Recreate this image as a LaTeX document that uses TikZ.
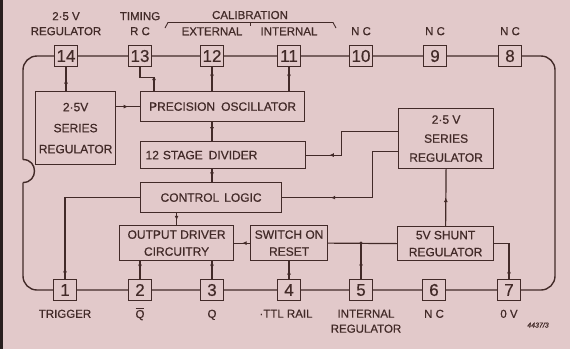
\documentclass[tikz,border=0pt]{standalone}
\usepackage{fontspec}
\setmainfont{Liberation Sans}[FakeBold=0.6]
\usetikzlibrary{arrows.meta,positioning,calc,decorations.markings}
\definecolor{PaperPink}{RGB}{226,201,202}
\definecolor{InkBrown}{RGB}{66,42,40}
\definecolor{EdgeDark}{RGB}{40,30,30}
\tikzset{
  tipat/.style={postaction={decorate},decoration={markings,mark=at position #1 with {\arrow{Latex[length=4.5pt,width=4pt]}}}},
  tipat/.default=0.5,
  pinbox/.style={draw=InkBrown, line width=1.3pt, fill=PaperPink, minimum width=23pt, minimum height=21pt, inner sep=0pt, font=\fontsize{17}{17}\selectfont},
  blockbox/.style={draw=InkBrown, line width=1.2pt, anchor=north west, align=center, inner sep=2pt, font=\fontsize{12}{19}\selectfont},
  pinlabel/.style={align=center, inner sep=1pt, font=\fontsize{11.5}{15}\selectfont}
}

\begin{document}
\begin{tikzpicture}[x=1pt, y=-1pt, color=InkBrown, line width=1.2pt]
        \useasboundingbox (0,0) rectangle (570,349);
        \fill[PaperPink] (0,0) rectangle (570,349);
        \fill[EdgeDark] (0,0) rectangle (3,349);

        \draw[line width=1.4pt, rounded corners=14pt] (23,159.5) |- (555,56) |- (23,290) -- (23,182.5);
        \draw[line width=1.4pt] (23,159.5) .. controls (38.3,159.5) and (38.3,182.5) .. (23,182.5);

        \foreach \num/\xx in {14/66,13/140,12/212,11/289,10/361,9/435,8/510}
          \node[pinbox] (p\num) at (\xx,56) {\num};
        \foreach \num/\xx in {1/65,2/140,3/212,4/289,5/361,6/434,7/509}
          \node[pinbox] (p\num) at (\xx,290) {\num};

        \node[pinlabel, above=8pt of p14] (l14) {2·5 V\\REGULATOR};
        \node[pinlabel, above=8pt of p13] (l13) {TIMING\\R C};
        \node[pinlabel, above=8pt of p12] (l12) {EXTERNAL};
        \node[pinlabel, above=8pt of p11] (l11) {INTERNAL};
        \foreach \num in {10,9,8}
          \node[pinlabel, above=8pt of p\num] (l\num) {N C};
        \node[pinlabel, anchor=base] (lcal) at (250,19) {CALIBRATION};
        \draw[line width=0.9pt] (165,28) -- (168,22.5) -- (333,22.5) -- (336,28);
        \draw[line width=0.9pt] (250,22.5) -- (250,25.5);

        \node[pinlabel, below=7pt of p1] (l1) {TRIGGER};
        \node[pinlabel, below=7pt of p2, text height=8.3pt] (l2) {$\overline{\mbox{Q}}$};
        \node[pinlabel, below=7pt of p3] (l3) {Q};
        \node[pinlabel, below=7pt of p4, xshift=-3pt] (l4) {·TTL RAIL};
        \node[pinlabel, below=7pt of p5, xshift=5pt] (l5) {INTERNAL\\REGULATOR};
        \node[pinlabel, below=7pt of p6] (l6) {N C};
        \node[pinlabel, below=7pt of p7] (l7) {0 V};
        \node[font=\fontsize{7}{7}\selectfont\itshape] (figno) at (538,325) {4437/3};

        \node[blockbox, minimum width=80pt, minimum height=73pt, font=\fontsize{12}{21}\selectfont] (lreg) at (35,91) {2·5V\\SERIES\\REGULATOR};
        \node[blockbox, minimum width=164pt, minimum height=30pt] (osc) at (140,91) {PRECISION\hspace{6pt}OSCILLATOR};
        \node[blockbox, minimum width=165pt, minimum height=27pt, text width=155pt, align=left] (div) at (140,141) {12 STAGE\hspace{6pt}DIVIDER};
        \node[blockbox, minimum width=141pt, minimum height=30pt] (ctl) at (140,182) {CONTROL\hspace{5pt}LOGIC};
        \node[blockbox, minimum width=114pt, minimum height=35pt, font=\fontsize{12}{17}\selectfont] (odrv) at (119,225) {OUTPUT DRIVER\\CIRCUITRY};
        \node[blockbox, minimum width=77pt, minimum height=35pt, font=\fontsize{12}{17}\selectfont] (sor) at (250,225) {SWITCH ON\\RESET};
        \node[blockbox, minimum width=96pt, minimum height=34pt, font=\fontsize{12}{17}\selectfont] (shunt) at (397,226) {5V SHUNT\\REGULATOR};
        \node[blockbox, minimum width=95pt, minimum height=60pt] (rreg) at (398,108) {2·5 V\\SERIES\\REGULATOR};

        \draw[tipat] (p14 |- lreg.north) -- (p14.south);
        \draw[tipat=0.8] (p13.south) -- ++(0,10) -| ([xshift=14pt]osc.north west);
        \draw[tipat] (p12.south) -- (p12 |- osc.north);
        \draw[tipat] (p11.south) -- (p11 |- osc.north);
        \draw[tipat] (lreg.east |- osc.west) -- (osc.west);
        \draw[tipat] (p12 |- osc.south) -- (p12 |- div.north);
        \draw[tipat=0.8] ([yshift=7pt]rreg.west) -| ($(div.east)+(35,0)$) -- (div.east);
        \draw[tipat=0.6] (p12 |- div.south) -- (p12 |- ctl.north);
        \draw[tipat=0.7] ([yshift=-13pt]rreg.west) -| ($(ctl.east)+(90,0)$) -- (ctl.east);
        \draw[tipat=0.07] (p1.north) |- (ctl.west);
        \draw[tipat=0.6] (odrv.north |- ctl.south) -- (odrv.north);
        \draw[tipat=0.45] (p2 |- odrv.south) -- (p2.north);
        \draw[tipat=0.45] (p3 |- odrv.south) -- (p3.north);
        \draw[tipat] (sor.west) -- (odrv.east);
        \draw[tipat] (p4.north) -- (p4 |- sor.south);
        \draw (sor.east) -- (shunt.west);
        \coordinate (j5) at (p5 |- sor.east);
        \draw[tipat] (p5.north) -- (j5);
        \fill (j5) circle[radius=1.8pt];
        \draw[tipat] (shunt.north) -- (rreg.south);
        \draw[tipat=0.2] (p7.north) |- (shunt.east);
      \end{tikzpicture}
\end{document}
